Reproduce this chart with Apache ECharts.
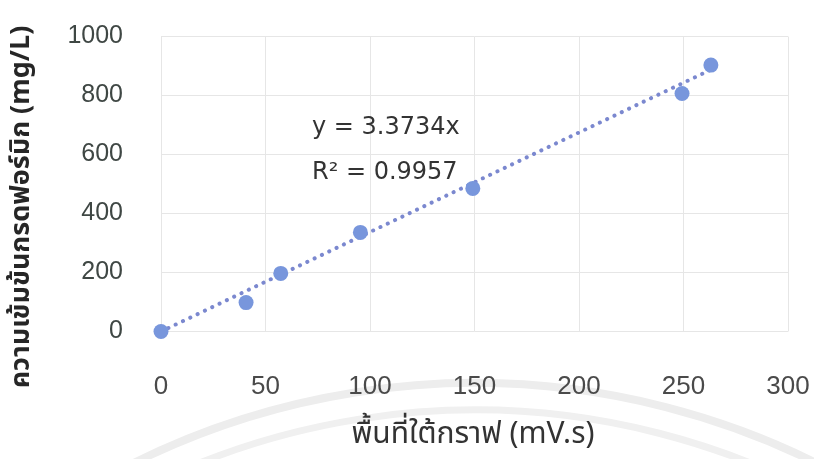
<!DOCTYPE html>
<html>
<head>
<meta charset="utf-8">
<style>
  html, body { margin: 0; padding: 0; background: #ffffff; }
  #chart { width: 814px; height: 459px; }
</style>
<script src="https://cdn.jsdelivr.net/npm/echarts@6/dist/echarts.min.js"></script>
</head>
<body>
<div id="chart"></div>
<script>
// Peak area (mV.s) against formic acid concentration (mg/L)
const peakArea = [0, 40.7, 57.3, 95.4, 149.2, 249.3, 263.1];
const concentration = [0, 98, 197, 336, 485, 807, 903];

// Linear trendline through the origin, y = slope * x
const slope = 3.3734;
const rSquared = 0.9957;
const trendX = [0, 263.1];

const xTicks = [0, 50, 100, 150, 200, 250, 300];
const yTicks = [0, 200, 400, 600, 800, 1000];

const xTitle = 'พื้นที่ใต้กราฟ (mV.s)';
const yTitle = 'ความเข้มข้นกรดฟอร์มิก (mg/L)';

const points = peakArea.map((x, i) => [x, concentration[i]]);
const trend = trendX.map(x => [x, slope * x]);

const chart = echarts.init(document.getElementById('chart'), null, { renderer: 'canvas' });

const thaiFont = '"Noto Sans Thai", "Noto Sans", "DejaVu Sans", sans-serif';

chart.setOption({
  animation: false,
  backgroundColor: '#ffffff',
  grid: { left: 161, right: 26, top: 36.5, bottom: 127.5, containLabel: false },
  xAxis: {
    type: 'value',
    min: xTicks[0],
    max: xTicks[xTicks.length - 1],
    interval: xTicks[1] - xTicks[0],
    axisLine: { show: false },
    axisTick: { show: false },
    splitLine: { show: true, lineStyle: { color: '#e6e6e6', width: 1 } },
    axisLabel: {
      margin: 42,
      color: '#4a4a4a',
      fontSize: 26,
      fontFamily: '"Liberation Sans", sans-serif',
      formatter: v => String(v)
    }
  },
  yAxis: {
    type: 'value',
    min: yTicks[0],
    max: yTicks[yTicks.length - 1],
    interval: yTicks[1] - yTicks[0],
    axisLine: { show: false },
    axisTick: { show: false },
    splitLine: { show: true, lineStyle: { color: '#e6e6e6', width: 1 } },
    axisLabel: {
      margin: 38,
      color: '#3f4744',
      fontSize: 25,
      fontFamily: '"Liberation Sans", sans-serif',
      formatter: v => String(v)
    }
  },
  graphic: [
    // faint arcs in the background
    {
      type: 'arc', z: -10, silent: true,
      shape: { cx: 475, cy: 1150, r: 767, startAngle: Math.PI * 1.2, endAngle: Math.PI * 1.8 },
      style: { fill: null, stroke: '#ededed', lineWidth: 8 }
    },
    {
      type: 'arc', z: -10, silent: true,
      shape: { cx: 475, cy: 1150, r: 740, startAngle: Math.PI * 1.2, endAngle: Math.PI * 1.8 },
      style: { fill: null, stroke: '#f0f0f0', lineWidth: 7 }
    },
    {
      type: 'text', left: 312, top: 116, z: 10,
      style: {
        text: 'y = ' + slope.toFixed(4) + 'x',
        font: '24px "DejaVu Sans", sans-serif',
        fill: '#333333'
      }
    },
    {
      type: 'text', left: 312, top: 161, z: 10,
      style: {
        text: 'R² = ' + rSquared.toFixed(4),
        font: '24px "DejaVu Sans", sans-serif',
        fill: '#333333'
      }
    },
    {
      type: 'text', z: 10,
      x: 473, y: 437,
      style: {
        text: xTitle,
        font: '30px ' + thaiFont,
        fill: '#333333',
        align: 'center',
        verticalAlign: 'middle'
      }
    },
    {
      type: 'text', z: 10,
      x: 24, y: 207, rotation: Math.PI / 2,
      style: {
        text: yTitle,
        font: 'bold 27px ' + thaiFont,
        fill: '#262626',
        align: 'center',
        verticalAlign: 'middle'
      }
    }
  ],
  series: [
    {
      type: 'line',
      data: trend,
      symbol: 'none',
      silent: true,
      z: 2,
      lineStyle: { color: '#7b88cf', width: 4, type: [0.1, 8], cap: 'round' }
    },
    {
      type: 'scatter',
      data: points,
      symbol: 'circle',
      symbolSize: 15,
      z: 3,
      itemStyle: { color: '#7896dc', opacity: 1 }
    }
  ]
});
</script>
</body>
</html>
